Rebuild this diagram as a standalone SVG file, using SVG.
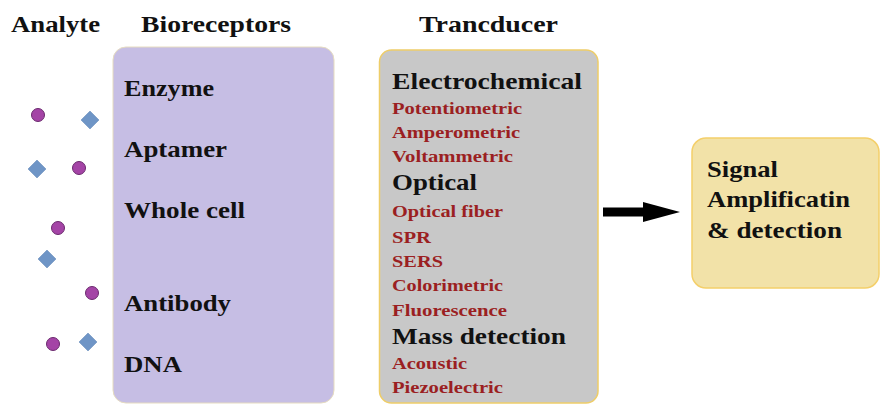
<svg xmlns="http://www.w3.org/2000/svg" width="880" height="404" viewBox="0 0 880 404">
<style>
text{font-family:'Liberation Serif','Times New Roman',serif;font-weight:700;}
.h{font-size:24px;fill:#111;}
.b{font-size:24px;fill:#111;}
.t{font-size:24px;fill:#111;}
.r{font-size:16.5px;fill:#9b1f22;}
.c{fill:#a444a6;stroke:#6b2a6e;stroke-width:1;}
.d{fill:#6f95c6;stroke:#5f85b6;stroke-width:0.5;}
</style>
<rect width="880" height="404" fill="#fff"/>
<g id="titles">
<text class="h" x="11" y="32" textLength="89" lengthAdjust="spacingAndGlyphs">Analyte</text>
<text class="h" x="141" y="32" textLength="150" lengthAdjust="spacingAndGlyphs">Bioreceptors</text>
<text class="h" x="419" y="32" textLength="139" lengthAdjust="spacingAndGlyphs">Trancducer</text>
</g>
<g id="analytes">
<circle class="c" cx="38" cy="115" r="6.5"/>
<path class="d" d="M90,111 L99,120 L90,129 L81,120 Z"/>
<path class="d" d="M37,160 L46,169 L37,178 L28,169 Z"/>
<circle class="c" cx="79" cy="168" r="6.5"/>
<circle class="c" cx="58" cy="228" r="6.5"/>
<path class="d" d="M47,250 L56,259 L47,268 L38,259 Z"/>
<circle class="c" cx="92" cy="293" r="6.5"/>
<circle class="c" cx="53" cy="344" r="6.5"/>
<path class="d" d="M88,333 L97,342 L88,351 L79,342 Z"/>
</g>
<g id="bioreceptors">
<rect x="113" y="47" width="221" height="356" rx="13" fill="#c6bee4" stroke="#e6dcc0" stroke-width="1"/>
<text class="b" x="124" y="96" textLength="90" lengthAdjust="spacingAndGlyphs">Enzyme</text>
<text class="b" x="124" y="157" textLength="103" lengthAdjust="spacingAndGlyphs">Aptamer</text>
<text class="b" x="124" y="218" textLength="121" lengthAdjust="spacingAndGlyphs">Whole cell</text>
<text class="b" x="124" y="311" textLength="107" lengthAdjust="spacingAndGlyphs">Antibody</text>
<text class="b" x="124" y="372" textLength="58" lengthAdjust="spacingAndGlyphs">DNA</text>
</g>
<g id="transducer">
<rect x="379.5" y="50" width="218.5" height="353" rx="12" fill="#c8c8c8" stroke="#eecd68" stroke-width="1.5"/>
<text class="t" x="392" y="89" textLength="190" lengthAdjust="spacingAndGlyphs">Electrochemical</text>
<text class="r" x="392" y="114" textLength="130" lengthAdjust="spacingAndGlyphs">Potentiometric</text>
<text class="r" x="392" y="138" textLength="128" lengthAdjust="spacingAndGlyphs">Amperometric</text>
<text class="r" x="392" y="162" textLength="121" lengthAdjust="spacingAndGlyphs">Voltammetric</text>
<text class="t" x="392" y="190" textLength="85" lengthAdjust="spacingAndGlyphs">Optical</text>
<text class="r" x="392" y="217" textLength="111" lengthAdjust="spacingAndGlyphs">Optical fiber</text>
<text class="r" x="392" y="243" textLength="39" lengthAdjust="spacingAndGlyphs">SPR</text>
<text class="r" x="392" y="267" textLength="51" lengthAdjust="spacingAndGlyphs">SERS</text>
<text class="r" x="392" y="291" textLength="111" lengthAdjust="spacingAndGlyphs">Colorimetric</text>
<text class="r" x="392" y="316" textLength="115" lengthAdjust="spacingAndGlyphs">Fluorescence</text>
<text class="t" x="392" y="344" textLength="174" lengthAdjust="spacingAndGlyphs">Mass detection</text>
<text class="r" x="392" y="369" textLength="75" lengthAdjust="spacingAndGlyphs">Acoustic</text>
<text class="r" x="392" y="393" textLength="111" lengthAdjust="spacingAndGlyphs">Piezoelectric</text>
</g>
<g id="signal">
<rect x="692" y="138" width="187" height="150" rx="14" fill="#f2e2a8" stroke="#f4cf6a" stroke-width="1.5"/>
<text class="t" x="707" y="177" textLength="71" lengthAdjust="spacingAndGlyphs">Signal</text>
<text class="t" x="707" y="207" textLength="143" lengthAdjust="spacingAndGlyphs">Amplificatin</text>
<text class="t" x="707" y="238" textLength="135" lengthAdjust="spacingAndGlyphs">&amp; detection</text>
</g>
<g id="connectors">
<path d="M603,212 L644,212" stroke="#000" stroke-width="9" fill="none"/>
<path d="M643,202 L680,212 L643,222 Z" fill="#000"/>
</g>
</svg>
